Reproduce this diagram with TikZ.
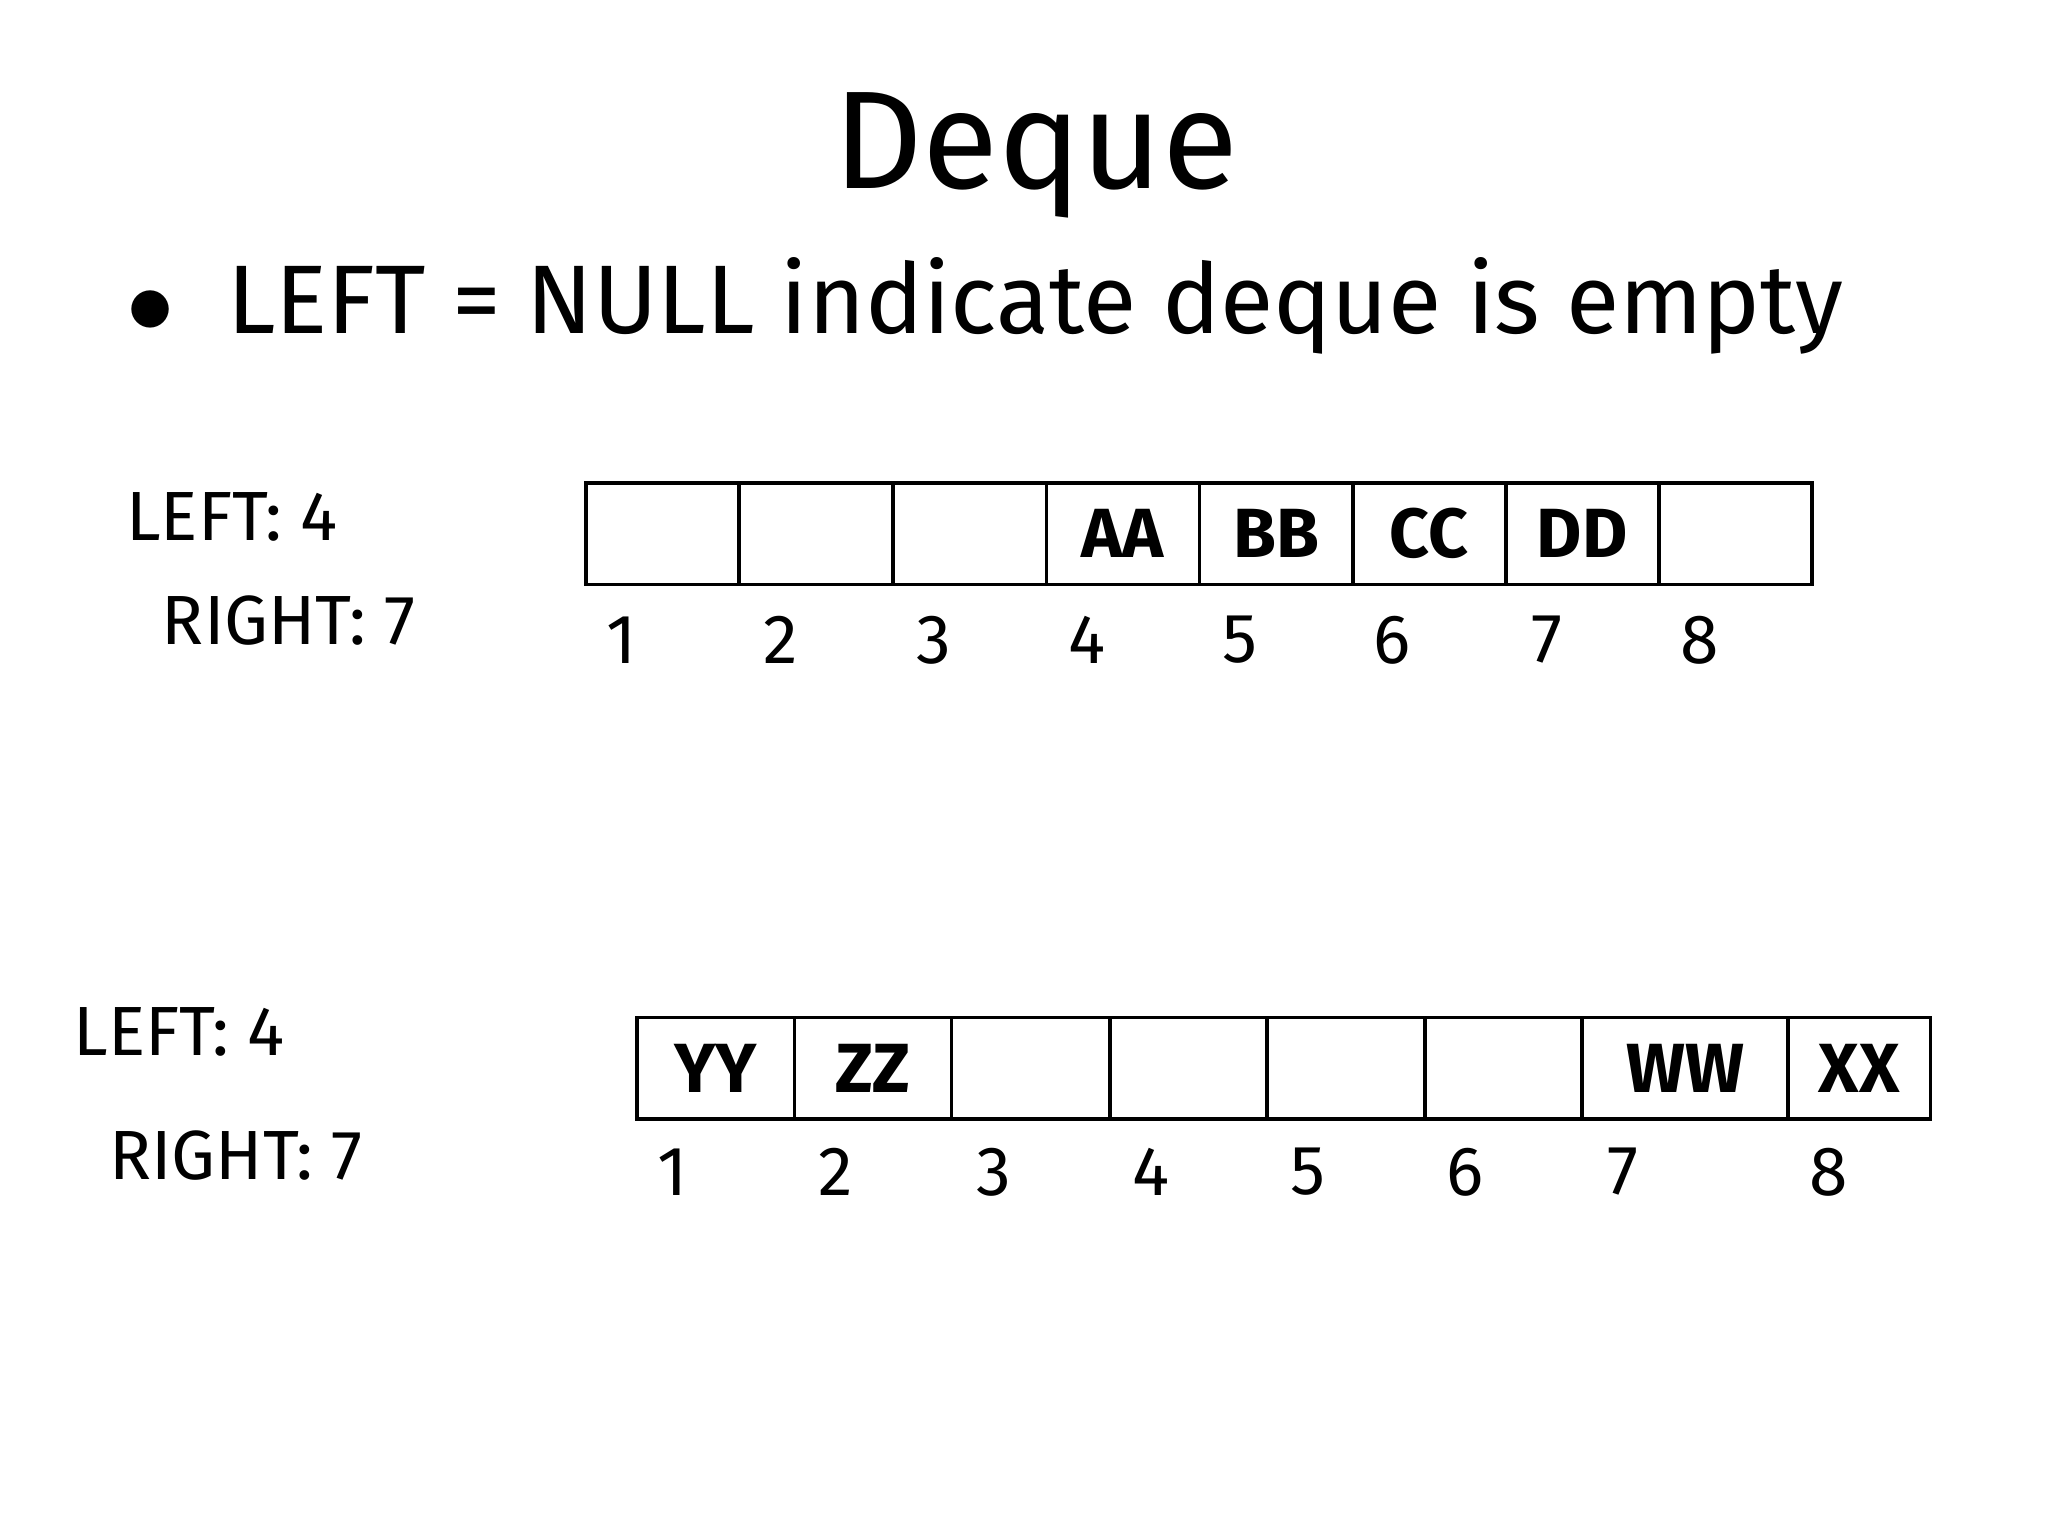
\documentclass[tikz,border=0pt]{standalone}
\usepackage{fontspec}
\setmainfont{Fira Sans}
\begin{document}
\begin{tikzpicture}[x=0.01cm,y=-0.01cm,
  cellbox/.style={draw,line width=0.8pt,minimum height=0.77cm,inner sep=0pt,font=\fontsize{15}{18}\selectfont\bfseries},
  lbl/.style={anchor=west,inner sep=0pt,font=\fontsize{15}{18}\selectfont},
  num/.style={inner sep=0pt,font=\fontsize{15}{18}\selectfont}]
\useasboundingbox[fill=white] (0,0) rectangle (1552,1164);
\node[inner sep=0pt,font=\fontsize{30}{36}\selectfont] (title) at (785,118) {Deque};
\node[anchor=west,inner sep=0pt,font=\fontsize{21}{25}\selectfont] (bullet) at (95,232) {$\bullet$\; LEFT = NULL indicate deque is empty};
\node[lbl] (l1) at (95,392) {LEFT: 4};
\node[lbl] (r1) at (122,470) {RIGHT: 7};
\node[lbl] (l2) at (55,782) {LEFT: 4};
\node[lbl] (r2) at (82,876) {RIGHT: 7};
% top array
\foreach \a/\b/\t [count=\i] in {444/560/,560/677/,677/793/,793/909/AA,909/1025/BB,1025/1141/CC,1141/1257/DD,1257/1373/}{
  \pgfmathsetmacro\w{(\b-\a)/100}
  \node[cellbox,minimum width=\w cm] (t\i) at ({(\a+\b)/2},404.5) {\t};
}
\foreach \x [count=\i] in {471,592,708,824,940,1055,1172,1288}
  \node[num] (tn\i) at (\x,485) {\i};
% bottom array
\foreach \a/\b/\t [count=\i] in {483/602/YY,602/721/ZZ,721/841/,841/960/,960/1080/,1080/1199/,1199/1355/WW,1355/1463/XX}{
  \pgfmathsetmacro\w{(\b-\a)/100}
  \node[cellbox,minimum width=\w cm] (b\i) at ({(\a+\b)/2},809.5) {\t};
}
\foreach \x [count=\i] in {510,633,753,872,991,1110,1230,1386}
  \node[num] (bn\i) at (\x,888) {\i};
\end{tikzpicture}
\end{document}
